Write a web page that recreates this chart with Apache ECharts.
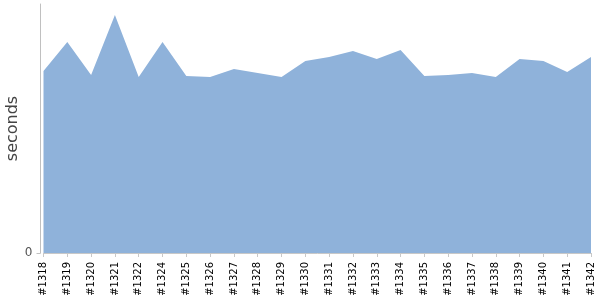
<!DOCTYPE html>
<html>
<head>
<meta charset="utf-8">
<script src="https://cdn.jsdelivr.net/npm/echarts@6/dist/echarts.min.js"></script>
<style>html,body{margin:0;padding:0;background:#fff}#c{width:600px;height:300px}</style>
</head>
<body>
<div id="c"></div>
<script>
const categories = ['#1318','#1319','#1320','#1321','#1322','#1324','#1325','#1326','#1327','#1328','#1329','#1330','#1331','#1332','#1333','#1334','#1335','#1336','#1337','#1338','#1339','#1340','#1341','#1342'];
const seconds = [182,211,178,238,176,211,177,176,184,180,176,192,196,202,194,203,177,178,180,176,194,192,181,196];
const yTicks = [0];

const chart = echarts.init(document.getElementById('c'), null, {renderer:'canvas'});
chart.setOption({
  animation: false,
  grid: {left: 43.5, right: 9, top: 4, bottom: 47, containLabel: false, outerBoundsMode: 'none'},
  xAxis: {
    type: 'category', data: categories, boundaryGap: false, offset: 4,
    axisLine: {show: true, lineStyle: {color: '#c8c8c8'}},
    axisTick: {show: true, length: 4, alignWithLabel: true, lineStyle: {color: '#c8c8c8'}},
    axisLabel: {rotate: 90, interval: 0, fontSize: 10, color: '#000', margin: 5, fontFamily: 'DejaVu Sans'}
  },
  yAxis: {
    type: 'value', min: 0, max: 249, offset: 3,
    name: 'seconds', nameLocation: 'middle', nameGap: 20, nameRotate: 90, nameMoveOverlap: false,
    nameTextStyle: {fontSize: 16, color: '#444', fontFamily: 'DejaVu Sans'},
    axisLine: {show: true, lineStyle: {color: '#c0c0c0'}},
    axisTick: {show: true, length: 4, customValues: yTicks, lineStyle: {color: '#c0c0c0'}},
    axisLabel: {customValues: yTicks, fontSize: 12, color: '#555', margin: 8, fontFamily: 'DejaVu Sans'},
    splitLine: {show: false}
  },
  series: [{
    type: 'line', data: seconds, symbol: 'none',
    lineStyle: {width: 0},
    areaStyle: {color: '#8fb2da', opacity: 1}
  }]
});
</script>
</body>
</html>
